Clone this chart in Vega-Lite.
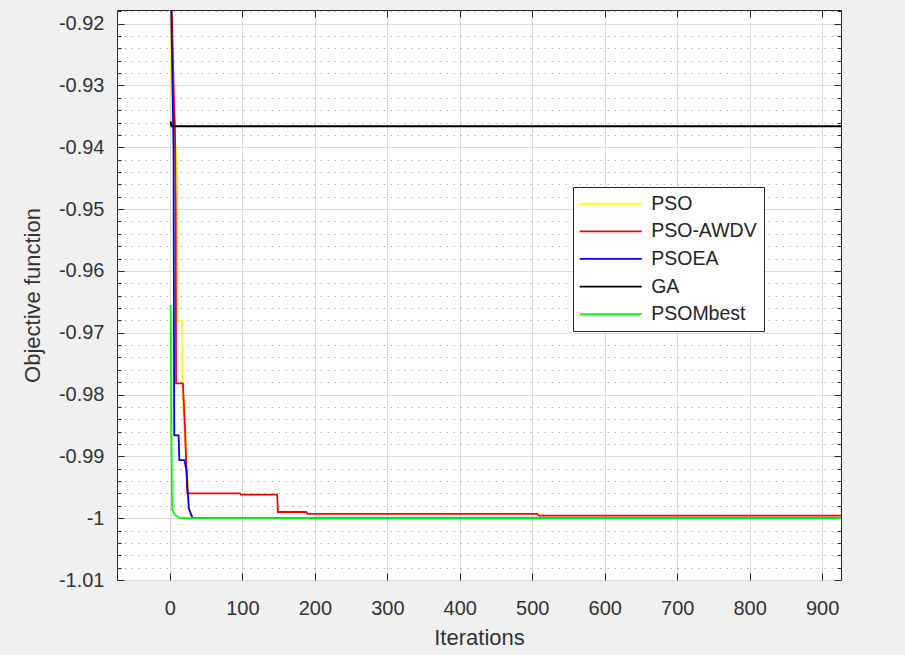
{
  "$schema": "https://vega.github.io/schema/vega-lite/v6.json",
  "autosize": {"type": "none"},
  "width": 724,
  "height": 570,
  "padding": {"left": 117, "top": 10, "right": 64, "bottom": 75},
  "background": "#f0f0f0",
  "config": {
    "view": {"fill": "white", "stroke": "#262626", "strokeWidth": 1},
    "font": "Liberation Sans",
    "axis": {
      "domain": false,
      "labelFont": "Liberation Sans",
      "labelFontSize": 20,
      "labelColor": "#333333",
      "titleFont": "Liberation Sans",
      "titleFontSize": 22,
      "titleFontWeight": "normal",
      "titleColor": "#333333",
      "tickColor": "#262626",
      "tickWidth": 1,
      "gridColor": "#dcdcdc",
      "gridWidth": 1
    },
    "legend": {
      "orient": "none",
      "legendX": 456,
      "legendY": 177,
      "padding": 7,
      "strokeColor": "#262626",
      "fillColor": "white",
      "symbolType": "M -2 0 H 10.4",
      "symbolSize": 100,
      "symbolStrokeWidth": 1.8,
      "labelOffset": 51.7,
      "labelFont": "Liberation Sans",
      "labelFontSize": 19.5,
      "labelColor": "#262626",
      "rowPadding": 6.6,
      "labelLimit": 300
    }
  },
  "data": {
    "values": [
      {"s": "PSO", "it": 0, "v": -0.905},
      {"s": "PSO", "it": 1, "v": -0.925},
      {"s": "PSO", "it": 3, "v": -0.935},
      {"s": "PSO", "it": 8, "v": -0.940},
      {"s": "PSO", "it": 10, "v": -0.944},
      {"s": "PSO", "it": 10.5, "v": -0.9681},
      {"s": "PSO", "it": 16.5, "v": -0.9681},
      {"s": "PSO", "it": 17, "v": -0.978},
      {"s": "PSO", "it": 20, "v": -0.986},
      {"s": "PSO", "it": 24, "v": -0.993},
      {"s": "PSO", "it": 27, "v": -0.9985},
      {"s": "PSO", "it": 30, "v": -0.9998},
      {"s": "PSO", "it": 36, "v": -1.0},
      {"s": "PSO", "it": 926, "v": -1.0},

      {"s": "PSO-AWDV", "it": 0, "v": -0.905},
      {"s": "PSO-AWDV", "it": 6, "v": -0.9343},
      {"s": "PSO-AWDV", "it": 7, "v": -0.9365},
      {"s": "PSO-AWDV", "it": 8, "v": -0.950},
      {"s": "PSO-AWDV", "it": 8.5, "v": -0.9782},
      {"s": "PSO-AWDV", "it": 18, "v": -0.9782},
      {"s": "PSO-AWDV", "it": 21, "v": -0.986},
      {"s": "PSO-AWDV", "it": 24, "v": -0.9960},
      {"s": "PSO-AWDV", "it": 97, "v": -0.9960},
      {"s": "PSO-AWDV", "it": 98, "v": -0.9962},
      {"s": "PSO-AWDV", "it": 148, "v": -0.9962},
      {"s": "PSO-AWDV", "it": 149, "v": -0.9990},
      {"s": "PSO-AWDV", "it": 188, "v": -0.9990},
      {"s": "PSO-AWDV", "it": 190, "v": -0.9993},
      {"s": "PSO-AWDV", "it": 507, "v": -0.9993},
      {"s": "PSO-AWDV", "it": 509, "v": -0.9996},
      {"s": "PSO-AWDV", "it": 926, "v": -0.9996},

      {"s": "PSOEA", "it": 0, "v": -0.905},
      {"s": "PSOEA", "it": 5, "v": -0.940},
      {"s": "PSOEA", "it": 6, "v": -0.9866},
      {"s": "PSOEA", "it": 12, "v": -0.9866},
      {"s": "PSOEA", "it": 13, "v": -0.9906},
      {"s": "PSOEA", "it": 20, "v": -0.9906},
      {"s": "PSOEA", "it": 23, "v": -0.9924},
      {"s": "PSOEA", "it": 26, "v": -0.9984},
      {"s": "PSOEA", "it": 31, "v": -0.9999},
      {"s": "PSOEA", "it": 46, "v": -1.0},
      {"s": "PSOEA", "it": 926, "v": -1.0},

      {"s": "GA", "it": 1, "v": -0.9358},
      {"s": "GA", "it": 2, "v": -0.9366},
      {"s": "GA", "it": 926, "v": -0.9366},

      {"s": "PSOMbest", "it": 1, "v": -0.9655},
      {"s": "PSOMbest", "it": 2, "v": -0.985},
      {"s": "PSOMbest", "it": 3, "v": -0.9986},
      {"s": "PSOMbest", "it": 7, "v": -0.9995},
      {"s": "PSOMbest", "it": 14, "v": -1.0},
      {"s": "PSOMbest", "it": 926, "v": -1.0}
    ]
  },
  "layer": [
    {
      "mark": {"type": "line", "clip": true, "strokeWidth": 1.8, "interpolate": "linear"},
      "encoding": {
        "x": {
          "field": "it",
          "type": "quantitative",
          "scale": {"domain": [-73, 926], "nice": false, "zero": false},
          "axis": {
            "orient": "bottom",
            "title": "Iterations",
            "values": [0, 100, 200, 300, 400, 500, 600, 700, 800, 900],
            "tickSize": -7,
            "labelPadding": 25,
            "titlePadding": 9,
            "grid": true
          }
        },
        "y": {
          "field": "v",
          "type": "quantitative",
          "scale": {"domain": [-1.01, -0.9178], "nice": false, "zero": false},
          "axis": {
            "orient": "left",
            "title": "Objective function",
            "values": [-1.01, -1.008, -1.006, -1.004, -1.002, -1.0, -0.998, -0.996, -0.994, -0.992, -0.99, -0.988, -0.986, -0.984, -0.982, -0.98, -0.978, -0.976, -0.974, -0.972, -0.97, -0.968, -0.966, -0.964, -0.962, -0.96, -0.958, -0.956, -0.954, -0.952, -0.95, -0.948, -0.946, -0.944, -0.942, -0.94, -0.938, -0.936, -0.934, -0.932, -0.93, -0.928, -0.926, -0.924, -0.922, -0.92, -0.918],
            "labelExpr": "abs(round(datum.value*1000)) % 10 === 0 ? (datum.value < 0 ? '-' : '') + format(abs(datum.value), '.2~f') : ''",
            "tickSize": {"condition": {"test": "abs(round(datum.value*1000)) % 10 === 0", "value": -7}, "value": -4},
            "gridDash": {"condition": {"test": "abs(round(datum.value*1000)) % 10 === 0", "value": []}, "value": [1.5, 5.5]},
            "gridColor": {"condition": {"test": "abs(round(datum.value*1000)) % 10 === 0", "value": "#dcdcdc"}, "value": "#b4b4b4"},
            "labelPadding": 20,
            "titlePadding": 14,
            "grid": true
          }
        },
        "color": {
          "field": "s",
          "type": "nominal",
          "title": null,
          "sort": ["PSO", "PSO-AWDV", "PSOEA", "GA", "PSOMbest"],
          "scale": {
            "domain": ["PSO", "PSO-AWDV", "PSOEA", "GA", "PSOMbest"],
            "range": ["#ffff00", "#ff0000", "#0000ff", "#000000", "#00ff00"]
          }
        }
      }
    },
    {
      "mark": {"type": "point", "opacity": 0},
      "encoding": {
        "x": {
          "field": "it",
          "type": "quantitative",
          "scale": {"domain": [-73, 926], "nice": false, "zero": false},
          "axis": {
            "orient": "top",
            "title": null,
            "values": [0, 100, 200, 300, 400, 500, 600, 700, 800, 900],
            "labels": false,
            "tickSize": -7,
            "grid": false
          }
        },
        "y": {
          "field": "v",
          "type": "quantitative",
          "scale": {"domain": [-1.01, -0.9178], "nice": false, "zero": false},
          "axis": {
            "orient": "right",
            "title": null,
            "values": [-1.01, -1.008, -1.006, -1.004, -1.002, -1.0, -0.998, -0.996, -0.994, -0.992, -0.99, -0.988, -0.986, -0.984, -0.982, -0.98, -0.978, -0.976, -0.974, -0.972, -0.97, -0.968, -0.966, -0.964, -0.962, -0.96, -0.958, -0.956, -0.954, -0.952, -0.95, -0.948, -0.946, -0.944, -0.942, -0.94, -0.938, -0.936, -0.934, -0.932, -0.93, -0.928, -0.926, -0.924, -0.922, -0.92, -0.918],
            "labels": false,
            "tickSize": {"condition": {"test": "abs(round(datum.value*1000)) % 10 === 0", "value": -7}, "value": -4},
            "grid": false
          }
        }
      }
    }
  ],
  "resolve": {"axis": {"x": "independent", "y": "independent"}}
}
